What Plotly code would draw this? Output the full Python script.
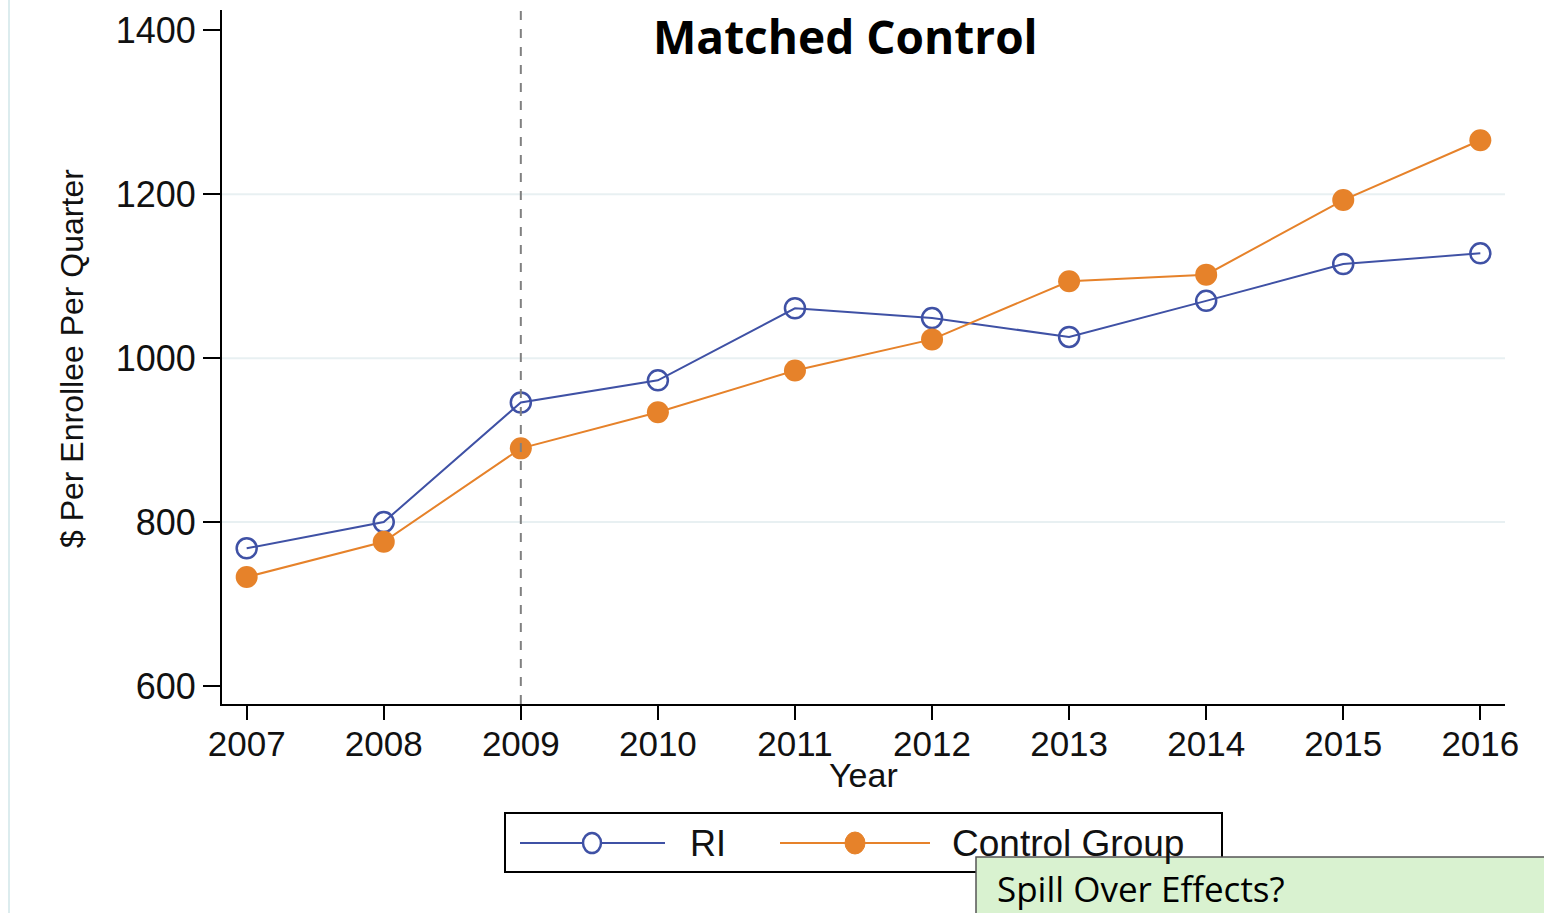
import plotly.graph_objects as go

years = [2007, 2008, 2009, 2010, 2011, 2012, 2013, 2014, 2015, 2016]
ri_values = [768, 800, 946, 973, 1061, 1049, 1026, 1070, 1115, 1128]
control_values = [733, 776, 890, 934, 985, 1023, 1094, 1102, 1193, 1266]
y_ticks = [600, 800, 1000, 1200, 1400]
grid_values = [800, 1000, 1200]
intervention_year = 2009
series_names = ["RI", "Control Group"]
title_text = "Matched Control"
note_text = "Spill Over Effects?"

BLUE = "#3f51a5"
ORANGE = "#e6822a"

FW, FH = 1544, 913
L, R, T, B = 222, 1505, 10, 704
W, H = R - L, B - T
def px(x):
    return (x - L) / W
def py(y):
    return (B - y) / H

fig = go.Figure()
fig.add_trace(go.Scatter(
    x=years, y=ri_values, name=series_names[0], mode="lines+markers",
    line=dict(color=BLUE, width=2),
    marker=dict(symbol="circle-open", size=20, color=BLUE, line=dict(width=2.5)),
    showlegend=False))
fig.add_trace(go.Scatter(
    x=years, y=control_values, name=series_names[1], mode="lines+markers",
    line=dict(color=ORANGE, width=2),
    marker=dict(symbol="circle", size=22, color=ORANGE),
    showlegend=False))

shapes = []
for g in grid_values:
    shapes.append(dict(type="line", xref="paper", yref="y", x0=0, x1=1, y0=g, y1=g,
                       line=dict(color="#e8f0f2", width=2), layer="below"))
shapes.append(dict(type="line", xref="x", yref="paper", x0=intervention_year, x1=intervention_year,
                   y0=0, y1=1, line=dict(color="#808080", width=2, dash="dash")))
# left thin border
shapes.append(dict(type="line", xref="paper", yref="paper", x0=px(9), x1=px(9), y0=py(0), y1=py(920),
                   line=dict(color="#dcecee", width=2)))
# legend box
shapes.append(dict(type="rect", xref="paper", yref="paper", x0=px(505), x1=px(1222), y0=py(813), y1=py(872),
                   line=dict(color="black", width=2), fillcolor="white"))
ly = py(843)
shapes.append(dict(type="line", xref="paper", yref="paper", x0=px(520), x1=px(665), y0=ly, y1=ly,
                   line=dict(color=BLUE, width=2)))
shapes.append(dict(type="circle", xref="paper", yref="paper", xsizemode="pixel", ysizemode="pixel",
                   xanchor=px(592), yanchor=ly, x0=-9, x1=9, y0=-10, y1=10,
                   line=dict(color=BLUE, width=2.5), fillcolor="white"))
shapes.append(dict(type="line", xref="paper", yref="paper", x0=px(780), x1=px(930), y0=ly, y1=ly,
                   line=dict(color=ORANGE, width=2)))
shapes.append(dict(type="circle", xref="paper", yref="paper", xsizemode="pixel", ysizemode="pixel",
                   xanchor=px(855), yanchor=ly, x0=-10, x1=10, y0=-11, y1=11,
                   line=dict(color=ORANGE, width=1), fillcolor=ORANGE))
# green note box
shapes.append(dict(type="rect", xref="paper", yref="paper", x0=px(976), x1=px(1580), y0=py(857), y1=py(940),
                   line=dict(color="#555555", width=1.5), fillcolor="#d9f2d0"))

annotations = [
    dict(text=title_text, xref="paper", yref="paper", x=px(845), y=py(36), showarrow=False,
         xanchor="center", yanchor="middle",
         font=dict(family="Open Sans", size=46, color="black", weight="bold")),
    dict(text="Year", xref="paper", yref="paper", x=px(863), y=py(775), showarrow=False,
         xanchor="center", yanchor="middle", font=dict(family="Liberation Sans", size=34, color="#111")),
    dict(text="$ Per Enrollee Per Quarter", xref="paper", yref="paper", x=px(72), y=py(359),
         showarrow=False, textangle=-90, xanchor="center", yanchor="middle",
         font=dict(family="Liberation Sans", size=32, color="#111")),
    dict(text=series_names[0], xref="paper", yref="paper", x=px(688), y=ly, showarrow=False,
         xanchor="left", yanchor="middle", font=dict(family="Liberation Sans", size=36, color="#111")),
    dict(text=series_names[1], xref="paper", yref="paper", x=px(950), y=ly, showarrow=False,
         xanchor="left", yanchor="middle", font=dict(family="Liberation Sans", size=37, color="#111")),
    dict(text=note_text, xref="paper", yref="paper", x=px(995), y=py(888), showarrow=False,
         xanchor="left", yanchor="middle", font=dict(family="Open Sans", size=35, color="black")),
]

fig.update_layout(
    width=FW, height=FH,
    margin=dict(l=L, r=FW - R, t=T, b=FH - B),
    plot_bgcolor="white", paper_bgcolor="white",
    shapes=shapes, annotations=annotations,
    xaxis=dict(range=[2006.82, 2016.18], tickvals=years, ticktext=[str(y) for y in years],
               showgrid=False, zeroline=False, showline=True, linecolor="black", linewidth=2,
               ticks="outside", ticklen=14, tickwidth=2, tickcolor="black", ticklabelstandoff=-6,
               tickfont=dict(family="Liberation Sans", size=35, color="#111")),
    yaxis=dict(range=[578, 1425], tickvals=y_ticks, ticktext=[str(v) for v in y_ticks],
               showgrid=False, zeroline=False, showline=True, linecolor="black", linewidth=2,
               ticks="outside", ticklen=17, tickwidth=2, tickcolor="black",
               tickfont=dict(family="Liberation Sans", size=36, color="#111")),
)

fig.write_html("out.html", config={"displayModeBar": False},
               post_script="document.body.style.margin='0';document.body.style.overflow='hidden';")
